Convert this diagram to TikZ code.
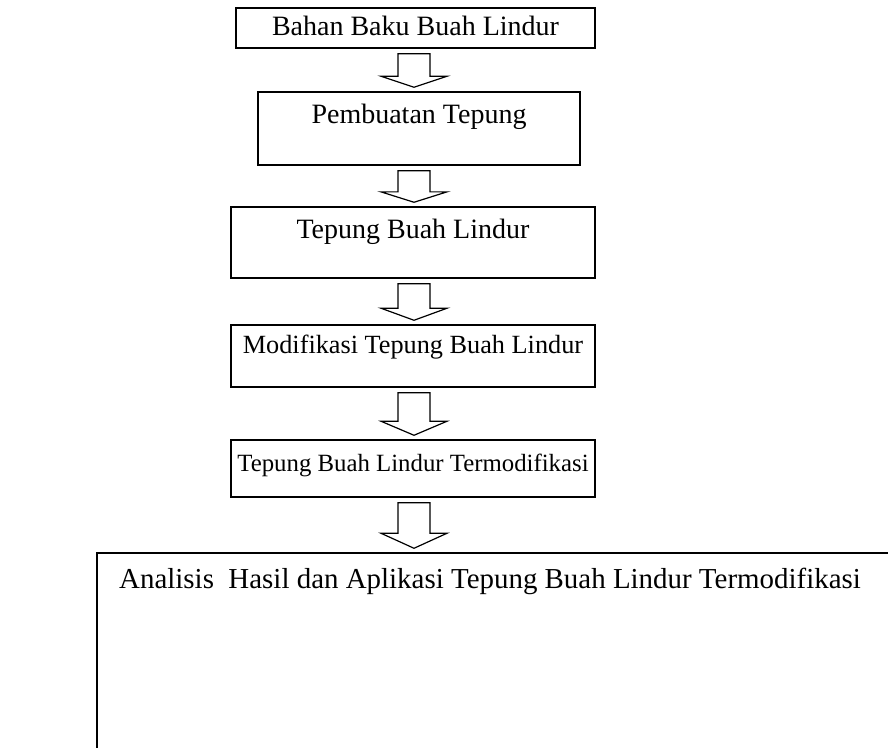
\documentclass[tikz,border=0pt]{standalone}
\usepackage{fontspec}
\setmainfont{Liberation Serif}
\usetikzlibrary{calc,positioning}

\begin{document}
\begin{tikzpicture}[x=0.75pt,y=-0.75pt,
    stage/.style={draw=black, line width=1.1pt, inner sep=0pt, align=center,
                  font=\fontsize{21}{25}\selectfont},
    blockarrow/.style={draw=black, line width=0.9pt, fill=white, line join=miter}]
            % Page
            \useasboundingbox (0,0) rectangle (888,747);
            \clip (0,0) rectangle (888,747);
            % Stages of the flow
            \node[stage, minimum width=269pt, text height=20.25pt, text depth=9.75pt] (bahan) at (415.5,28) {Bahan Baku Buah Lindur};
            \node[stage, minimum width=241.5pt, text height=23.25pt, text depth=31.5pt] (buat) at (419,128.5) {Pembuatan Tepung};
            \node[stage, minimum width=273pt, text height=23.25pt, text depth=30pt] (tepung) at (413,242.5) {Tepung Buah Lindur};
            \node[stage, font=\fontsize{19.7}{24}\selectfont, minimum width=273pt, text height=21pt, text depth=25.5pt] (modif) at (413,356) {Modifikasi Tepung Buah Lindur};
            \node[stage, font=\fontsize{18.6}{22}\selectfont, minimum width=273pt, text height=23.25pt, text depth=19.5pt] (hasil) at (413,468.5) {Tepung Buah Lindur Termodifikasi};
            \node[stage, font=\fontsize{21.7}{26}\selectfont, minimum width=606pt, text height=26.25pt, text depth=136.5pt] (analisis) at (501,661.5)
                {Analisis\ \ Hasil dan Aplikasi Tepung Buah Lindur Termodifikasi\hspace*{16.5pt}};
            % Block arrows between stages
            \coordinate (axis) at (414,0);
            \foreach \a/\b in {bahan/buat, buat/tepung, tepung/modif, modif/hasil, hasil/analisis}
                {
                    \coordinate (top) at ($(axis |- \a.south)+(0,5)$);
                    \coordinate (tip) at ($(axis |- \b.north)+(0,-4)$);
                    \coordinate (neck) at ($(tip)!0.33!(top)$);
                    \draw[blockarrow] ($(top)+(-16,0)$) -- ($(neck)+(-16,0)$) -- ($(neck)+(-33,0)$) -- (tip)
                        -- ($(neck)+(33,0)$) -- ($(neck)+(16,0)$) -- ($(top)+(16,0)$) -- cycle;
                }
\end{tikzpicture}
\end{document}
